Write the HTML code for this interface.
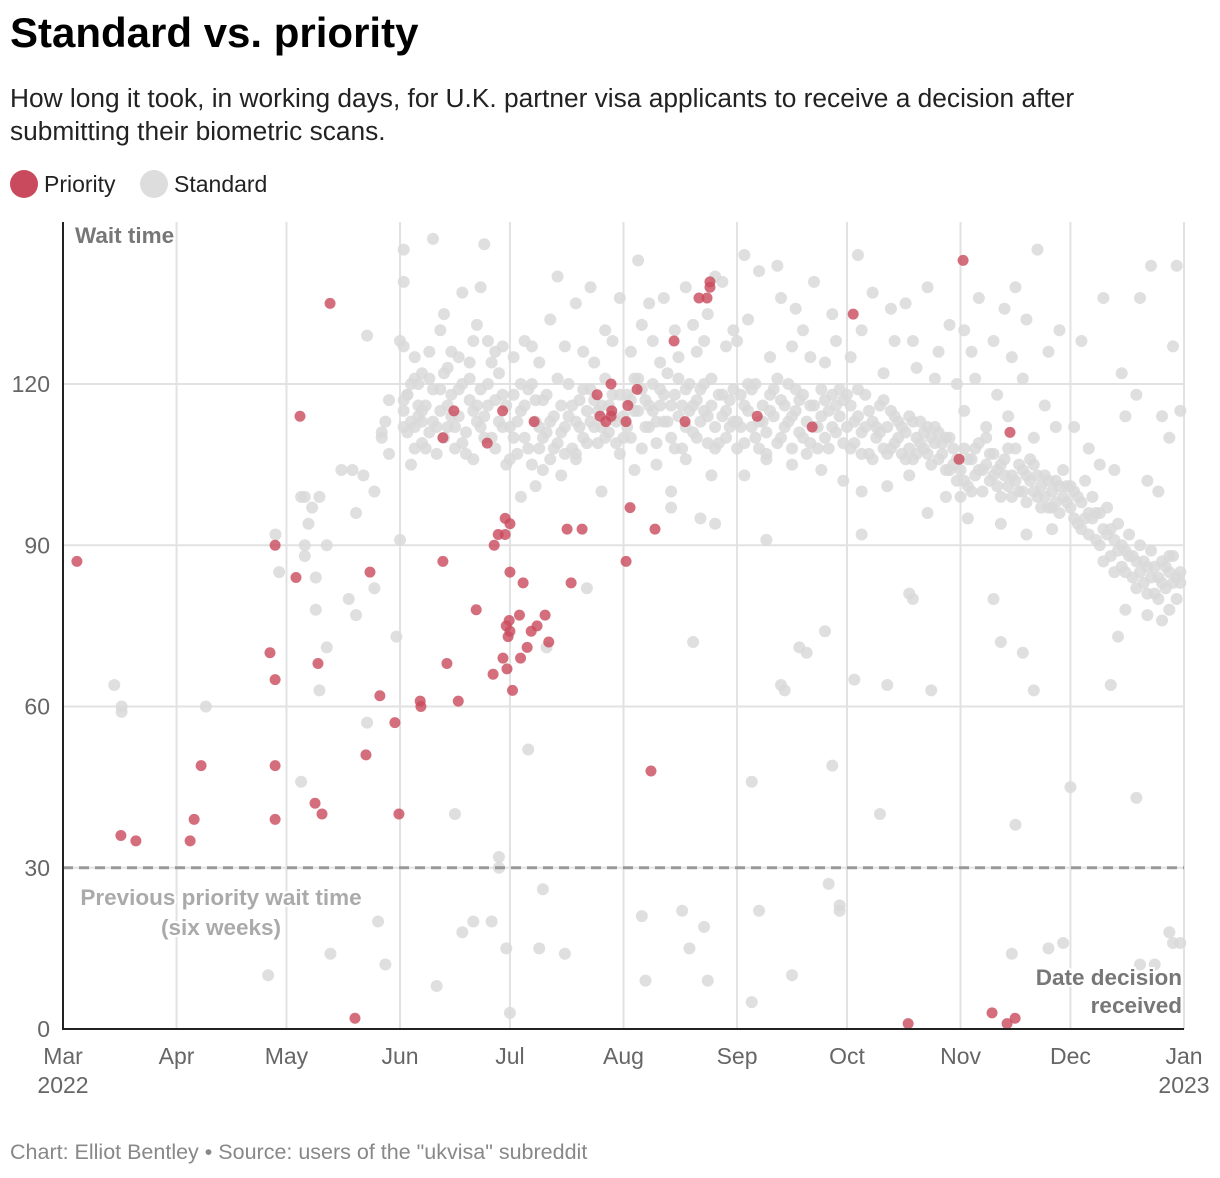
<!DOCTYPE html>
<html><head><meta charset="utf-8">
<style>
body{margin:0;background:#fff;font-family:"Liberation Sans",sans-serif;}
#wrap{position:relative;width:1220px;height:1178px;overflow:hidden;}
h1{position:absolute;left:10px;top:9px;margin:0;font-size:42px;font-weight:bold;color:#000;letter-spacing:0px;}
.sub{position:absolute;left:10px;top:82px;width:1160px;font-size:26.3px;line-height:33px;color:#222;}
.leg{position:absolute;top:170px;font-size:23px;color:#222;display:flex;align-items:center;}
.dot{width:28px;height:28px;border-radius:50%;display:inline-block;margin-right:6px;}
.foot{position:absolute;left:10px;top:1140px;font-size:21.5px;color:#888;}
svg{position:absolute;left:0;top:0;}
</style></head><body>
<div id="wrap">
<h1>Standard vs. priority</h1>
<div class="sub">How long it took, in working days, for U.K. partner visa applicants to receive a decision after submitting their biometric scans.</div>
<div class="leg" style="left:10px"><span class="dot" style="background:#c94a5c"></span>Priority</div>
<div class="leg" style="left:140px"><span class="dot" style="background:#ddd"></span>Standard</div>
<svg id="chart" width="1220" height="1178"></svg>
<div class="foot">Chart: Elliot Bentley • Source: users of the "ukvisa" subreddit</div>
</div>
<script>
const monthLabels=["Mar","Apr","May","Jun","Jul","Aug","Sep","Oct","Nov","Dec","Jan"];
const monthDays=[0,31,61,92,122,153,184,214,245,275,306];
const yTicks=[0,30,60,90,120];
const priorityDays=[3.8,15.8,19.9,34.7,35.8,37.7,56.5,57.9,57.9,57.9,57.9,63.6,64.7,68.8,69.6,70.7,72.9,79.7,82.7,83.8,86.5,90.6,91.7,97.5,97.7,103.7,103.7,104.8,106.7,107.9,112.8,115.8,117.4,117.7,118.8,120,120.1,120.7,120.7,121,121.2,121.5,121.8,122,122,122,122.7,124.6,124.9,125.6,126.7,127.8,128.6,129.4,131.6,132.6,137.6,138.7,141.7,145.8,146.6,148.2,149.6,149.6,149.8,153.7,153.7,154.2,154.8,156.7,160.5,161.6,166.8,169.8,173.6,175.8,176.6,176.6,189.5,204.5,215.7,230.7,244.6,245.7,253.6,257.7,258.5,259.9];
const priorityWaits=[87,36,35,35,39,49,70,90,65,49,39,84,114,42,68,40,135,2,51,85,62,57,40,61,60,87,110,68,115,61,78,109,66,90,92,115,69,95,92,75,67,73,76,85,94,74,63,77,69,83,71,74,113,75,77,72,93,83,93,118,114,113,114,120,115,113,87,116,97,119,48,93,128,113,136,136,139,138,114,112,133,1,106,143,3,1,111,2];
const standardPairs=[
14,64,16,60,16,59,39,60,56,10,58,92,59,85,65,46,65,99,66,90,66,88,67,94,69,84,69,78,70,63,72,71,72,90,73,14,76,104,78,80,80,77,80,96,83,129,83,57,85,82,86,20,88,12,91,73,92,91,92,128,93,145,93,139,101,147,102,8,107,40,109,18,112,20,115,146,117,20,119,32,119,30,121,15,122,3,127,52,131,26,130,15,132,71,137,14,143,82,158,21,159,9,166,100,169,22,171,15,172,72,175,19,176,9,178,94,188,5,188,46,190,22,192,91,196,64,197,63,199,10,201,71,203,70,208,74,210,49,212,23,212,22,209,27,216,65,218,92,223,40,225,64,231,81,232,80,237,63,254,80,256,72,259,14,260,38,262,70,265,63,269,15,273,16,275,45,286,64,288,73,293,43,294,12,298,12,302,18,303,16,305,16,
66,99,70,99,68,97,79,104,82,103,85,100,87,110,88,113,89,117,87,111,89,107,94,118,93,115,95,120,96,112,97,116,98,113,
93,112,94,118,95,105,96,121,97,114,98,109,99,116,100,111,101,119,102,107,103,115,104,122,105,112,106,118,107,108,108,114,109,120,110,111,111,117,112,106,113,113,114,119,115,110,116,116,117,124,118,108,119,113,120,118,121,105,
93,117,95,113,97,120,99,108,101,113,103,119,105,116,107,112,109,109,111,121,113,116,115,114,117,110,119,122,121,116,94,111,96,108,98,115,100,121,102,112,104,110,106,114,108,119,110,107,112,115,114,112,116,120,118,117,120,112,
93,127,96,125,100,126,103,130,106,126,109,137,111,124,113,131,116,128,118,126,120,127,98,122,105,123,112,128,104,133,114,138,108,125,
122,112,123,118,124,107,125,115,126,110,127,119,128,105,129,113,130,108,131,117,132,111,133,106,134,114,135,109,136,116,137,112,138,120,139,108,140,113,141,117,142,110,143,115,144,119,145,112,146,109,147,116,148,121,149,111,150,118,151,113,152,107,
122,106,124,113,126,116,128,120,130,112,132,118,134,108,136,111,138,114,140,107,142,119,144,113,146,115,148,110,150,114,152,118,123,110,125,120,127,108,129,117,131,110,133,113,135,121,137,107,139,116,141,112,143,109,145,117,147,112,149,116,151,109,
123,125,126,128,130,124,133,132,137,127,140,135,142,126,145,124,148,130,150,128,152,136,135,140,128,127,144,138,125,99,131,104,136,103,140,106,147,100,129,101,
153,114,154,118,155,110,156,121,157,115,158,108,159,117,160,112,161,120,162,109,163,116,164,113,165,122,166,110,167,118,168,114,169,108,170,119,171,115,172,111,173,117,174,113,175,120,176,109,177,116,178,112,179,118,180,114,181,110,182,117,183,113,
153,110,155,117,157,121,159,112,161,115,163,119,165,113,167,108,169,116,171,120,173,110,175,115,177,121,179,109,181,115,183,119,154,112,156,115,158,119,160,116,162,113,164,118,166,116,168,121,170,112,172,116,174,119,176,114,178,108,180,118,182,112,
155,126,158,131,161,128,164,136,167,130,170,138,173,126,176,133,178,140,181,127,157,143,163,124,168,125,175,128,180,139,183,130,160,135,172,131,156,104,162,105,170,106,177,103,166,97,174,95,
184,113,185,118,186,109,187,115,188,112,189,120,190,108,191,116,192,111,193,118,194,114,195,109,196,117,197,112,198,120,199,108,200,115,201,111,202,118,203,113,204,109,205,116,206,112,207,119,208,110,209,115,210,118,211,111,212,114,213,109,
184,108,186,116,188,119,190,113,192,107,194,119,196,110,198,113,200,119,202,110,204,116,206,108,208,117,210,112,212,119,185,112,187,120,189,110,191,113,193,115,195,121,197,116,199,114,201,117,203,107,205,112,207,114,209,108,211,116,213,117,
184,128,187,132,190,141,193,125,196,136,199,127,202,130,205,139,208,124,211,128,186,144,195,142,200,134,204,125,210,133,186,103,192,106,199,105,207,104,213,102,
214,112,215,116,216,109,217,114,218,111,219,118,220,107,221,113,222,110,223,116,224,108,225,112,226,115,227,109,228,113,229,107,230,111,231,114,232,106,233,110,234,113,235,108,236,112,237,105,238,109,239,111,240,107,241,110,242,104,243,108,244,106,
214,118,216,113,218,107,220,115,222,112,224,117,226,108,228,110,230,106,232,113,234,109,236,107,238,112,240,109,242,110,244,102,215,108,217,119,219,112,221,106,223,111,225,107,227,114,229,112,231,108,233,107,235,111,237,110,239,106,241,104,243,105,
215,125,218,130,221,137,224,122,227,128,230,135,233,123,236,138,239,126,242,131,217,144,226,134,232,128,238,121,244,120,218,100,225,101,231,103,236,96,241,99,
245,104,246,108,247,101,248,106,249,103,250,109,251,100,252,105,253,102,254,107,255,104,256,99,257,106,258,101,259,103,260,108,261,100,262,104,263,98,264,102,265,105,266,99,267,101,268,103,269,97,270,100,271,102,272,96,273,99,274,101,
245,99,247,106,249,108,251,104,253,107,255,101,257,103,259,99,261,105,263,103,265,100,267,97,269,102,271,98,273,104,246,102,248,100,250,104,252,110,254,103,256,105,258,108,260,102,262,100,264,106,266,103,268,99,270,97,272,101,274,98,
246,115,249,121,252,112,255,118,258,114,262,121,265,110,268,116,271,112,246,130,250,136,254,128,257,134,260,138,263,132,266,145,269,126,272,130,248,126,259,125,247,95,256,94,263,92,270,93,
275,97,276,100,277,94,278,98,279,95,280,92,281,99,282,96,283,90,284,93,285,97,286,88,287,91,288,94,289,86,290,89,291,92,292,84,293,87,294,90,295,83,296,86,297,89,298,81,299,84,300,87,301,82,302,85,303,88,304,80,305,83,
275,101,277,99,279,102,281,95,283,96,285,92,287,85,289,90,291,88,293,82,295,87,297,84,299,80,301,86,303,83,305,85,276,95,278,93,280,96,282,91,284,87,286,93,288,89,290,85,292,88,294,85,296,81,298,86,300,83,302,88,304,84,
276,112,280,108,283,105,287,104,290,114,293,118,296,102,299,100,302,110,278,128,284,136,289,122,294,136,297,142,300,114,303,127,304,142,305,115,290,78,296,77,300,76,302,78];

const X0=63,X1=1184,Y0=1029,Y120=384;
const xS=d=>X0+d*(X1-X0)/306;
const yS=v=>Y0-v*(Y0-Y120)/120;
const svg=document.getElementById('chart');
const NS='http://www.w3.org/2000/svg';
function mk(tag,attrs,parent){const e=document.createElementNS(NS,tag);for(const k in attrs)e.setAttribute(k,attrs[k]);(parent||svg).appendChild(e);return e;}

const grid=mk('g',{});


monthDays.forEach((d,i)=>{
  if(i>0){const l=mk('line',{x1:xS(d),x2:xS(d),y1:222,y2:Y0,stroke:'#e2e2e2','stroke-width':2},grid);
  
  }
  const t=mk('text',{x:xS(d),y:1064,'text-anchor':'middle','font-size':23,fill:'#666','font-family':'Liberation Sans, sans-serif'});
  t.textContent=monthLabels[i];
  
  
});
[['2022',xS(0)],['2023',xS(306)]].forEach(([s,x])=>{
  const t=mk('text',{x:x,y:1093,'text-anchor':'middle','font-size':23,fill:'#666','font-family':'Liberation Sans, sans-serif'});
  t.textContent=s;
  
  
});
yTicks.forEach(v=>{
  if(v>0){const l=mk('line',{x1:X0,x2:X1,y1:yS(v),y2:yS(v),stroke:'#e2e2e2','stroke-width':2},grid);
  
  }
  const t=mk('text',{x:50,y:yS(v)+8,'text-anchor':'end','font-size':23,fill:'#666','font-family':'Liberation Sans, sans-serif'});
  t.textContent=v;
  
  
});

const sg=mk('g',{fill:'#d9d9d9','fill-opacity':0.85});


for(let i=0;i<standardPairs.length;i+=2){
  const c=mk('circle',{cx:xS(standardPairs[i]),cy:yS(standardPairs[i+1]),r:6},sg);
  
  
}
const ref=mk('line',{x1:X0,x2:X1,y1:yS(30),y2:yS(30),stroke:'#999','stroke-width':3,'stroke-dasharray':'10 6'});


const pg=mk('g',{fill:'#c94a5c','fill-opacity':0.8});


priorityDays.forEach((d,i)=>{
  const c=mk('circle',{cx:xS(d),cy:yS(priorityWaits[i]),r:5.5},pg);
  
  
});
const ax=mk('path',{d:`M${X0} 222 V${Y0} H${X1}`,stroke:'#222','stroke-width':2,fill:'none'});



function label(txt,x,y,anchor,fill,name){
  const t=mk('text',{x:x,y:y,'text-anchor':anchor,'font-size':22.5,'font-weight':'bold',fill:fill,'font-family':'Liberation Sans, sans-serif',stroke:'#fff','stroke-width':4,'paint-order':'stroke'});
  t.textContent=txt;
  
  
}
label('Wait time',75,243,'start','#777','y-axis-title');
label('Previous priority wait time',221,905,'middle','#aaa','reference-annotation');
label('(six weeks)',221,935,'middle','#aaa','reference-annotation-sub');
label('Date decision',1182,985,'end','#777','x-axis-title');
label('received',1182,1013,'end','#777','x-axis-title-2');
</script>
</body></html>
